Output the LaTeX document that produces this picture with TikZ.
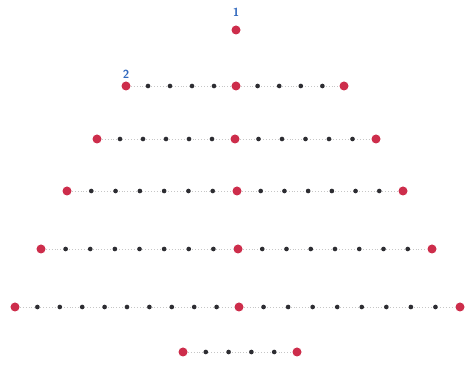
\documentclass[tikz,border=0pt]{standalone}
\usepackage{tikz}
\usetikzlibrary{positioning, calc}
\definecolor{dotred}{RGB}{205, 45, 75}
\definecolor{dotblack}{RGB}{45, 45, 50}
\definecolor{numblue}{RGB}{50, 105, 190}
\tikzset{
  reddot/.style={circle, fill=dotred, inner sep=0pt, minimum size=0.27cm},
  blackdot/.style={circle, fill=dotblack, inner sep=0pt, minimum size=0.14cm},
  link/.style={dotted, line width=0.5pt, color=gray!45},
  numlabel/.style={font=\sffamily\bfseries, text=numblue, inner sep=1pt},
}
\begin{document}
\begin{tikzpicture}[x=0.03cm, y=-0.03cm]
  \useasboundingbox (0,0) rectangle (467,372);

  % Apex
  \node[reddot] (r0-c) at (236,30) {};
  \node[numlabel, above=0.22cm of r0-c] (n1) {1};

  % Rows with three red dots
  \foreach \row/\y/\xl/\xc/\xr/\nl/\nr in {1/86/126/236/344/4/4, 2/139/97/235/376/5/5,
      3/191/67/237/403/6/6, 4/249/41/238/432/7/7, 5/307/15/239/460/9/8}{
    \node[reddot] (r\row-l) at (\xl,\y) {};
    \node[reddot] (r\row-c) at (\xc,\y) {};
    \node[reddot] (r\row-r) at (\xr,\y) {};
    \draw[link] (r\row-l) -- (r\row-c) -- (r\row-r);
    \foreach \k in {1,...,\nl}
      \node[blackdot] (r\row-a\k) at ($(r\row-l.center)!{\k/(\nl+1)}!(r\row-c.center)$) {};
    \foreach \k in {1,...,\nr}
      \node[blackdot] (r\row-b\k) at ($(r\row-c.center)!{\k/(\nr+1)}!(r\row-r.center)$) {};
  }
  \node[numlabel, above=0.04cm of r1-l] (n2) {2};

  % Base
  \node[reddot] (r6-l) at (183,352) {};
  \node[reddot] (r6-r) at (297,352) {};
  \draw[link] (r6-l) -- (r6-r);
  \foreach \k in {1,...,4}
    \node[blackdot] (r6-a\k) at ($(r6-l.center)!{\k/5}!(r6-r.center)$) {};
\end{tikzpicture}
\end{document}
